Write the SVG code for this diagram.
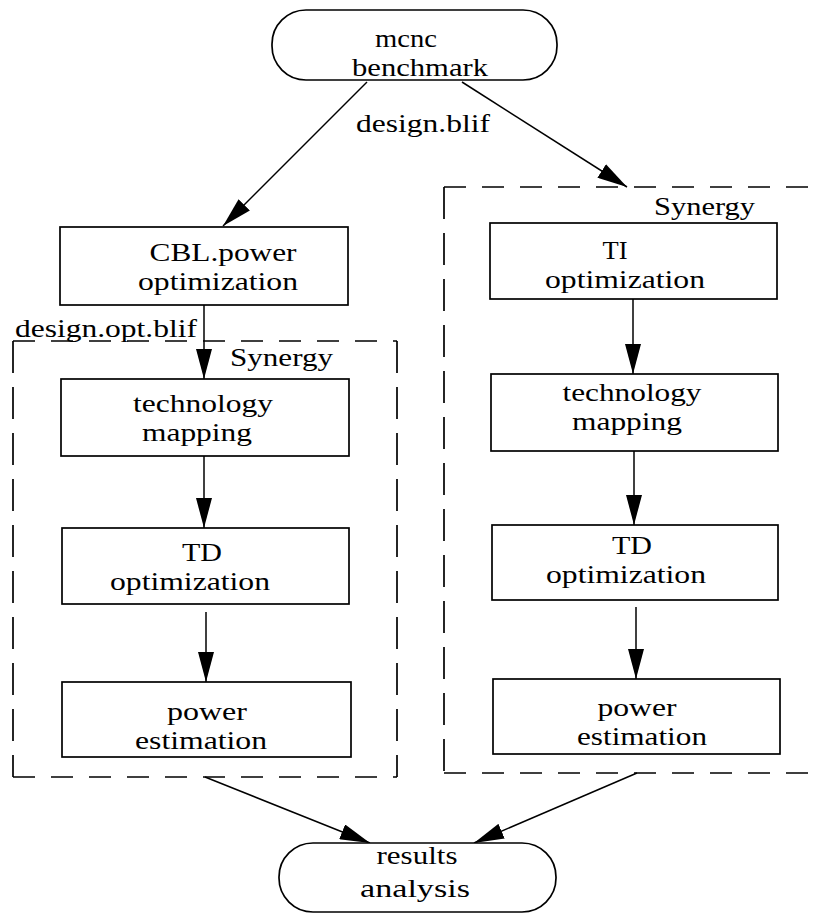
<svg xmlns="http://www.w3.org/2000/svg" width="814" height="915" viewBox="0 0 814 915">
<defs>
<style>
.box{fill:#fff;stroke:#000;stroke-width:1.7}
.t{font-family:"Liberation Serif","Times New Roman",serif;font-size:26px;fill:#000}
.m{text-anchor:middle}
.c{stroke:#000;stroke-width:1.5;fill:none;marker-end:url(#ah)}
.dh{stroke:#000;stroke-width:1.7;fill:none;stroke-dasharray:22 16}
.dv{stroke:#000;stroke-width:1.7;fill:none;stroke-dasharray:32 14}
</style>
<marker id="ah" viewBox="0 0 30 16" markerWidth="30" markerHeight="16" refX="30" refY="8" orient="auto" markerUnits="userSpaceOnUse">
<path d="M0,0 L30,8 L0,16 z" fill="#000"/>
</marker>
</defs>
<rect width="814" height="915" fill="#fff"/>

<g id="synergy-left">
<line class="dh" x1="13" y1="341" x2="397" y2="341"/>
<line class="dh" x1="13" y1="777" x2="397" y2="777"/>
<line class="dv" x1="13" y1="341" x2="13" y2="777"/>
<line class="dv" x1="397" y1="341" x2="397" y2="777"/>
<text class="t" x="230" y="366" textLength="103" lengthAdjust="spacingAndGlyphs">Synergy</text>
</g>

<g id="synergy-right">
<line class="dh" x1="444" y1="187" x2="820" y2="187"/>
<line class="dh" x1="444" y1="773" x2="820" y2="773"/>
<line class="dv" x1="444" y1="187" x2="444" y2="773"/>
<text class="t" x="654" y="215" textLength="101" lengthAdjust="spacingAndGlyphs">Synergy</text>
</g>

<g id="connectors">
<line class="c" x1="367" y1="82" x2="223" y2="226"/>
<line class="c" x1="462" y1="82" x2="627" y2="187"/>
<line class="c" x1="204" y1="305" x2="204" y2="379"/>
<line class="c" x1="204" y1="456" x2="204" y2="528"/>
<line class="c" x1="206" y1="612" x2="206" y2="682"/>
<line class="c" x1="633" y1="299" x2="633" y2="374"/>
<line class="c" x1="634" y1="451" x2="634" y2="525"/>
<line class="c" x1="636" y1="607" x2="636" y2="679"/>
<line class="c" x1="205" y1="777" x2="370" y2="843"/>
<line class="c" x1="637" y1="773" x2="474" y2="843"/>
</g>

<g id="mcnc">
<rect class="box" x="272" y="10" width="285" height="70" rx="34" ry="34"/>
<text class="t m" x="406" y="47" textLength="62" lengthAdjust="spacingAndGlyphs">mcnc</text>
<text class="t m" x="420" y="76" textLength="136" lengthAdjust="spacingAndGlyphs">benchmark</text>
</g>

<text id="label-design-blif" class="t" x="356" y="132" textLength="134" lengthAdjust="spacingAndGlyphs">design.blif</text>

<g id="cbl">
<rect class="box" x="60" y="227" width="288" height="78"/>
<text class="t m" x="223" y="261" textLength="147" lengthAdjust="spacingAndGlyphs">CBL.power</text>
<text class="t m" x="218" y="290" textLength="160" lengthAdjust="spacingAndGlyphs">optimization</text>
</g>

<text id="label-design-opt-blif" class="t" x="15" y="337" textLength="182" lengthAdjust="spacingAndGlyphs">design.opt.blif</text>

<g id="tech-left">
<rect class="box" x="61" y="379" width="288" height="77"/>
<text class="t m" x="203" y="412" textLength="140" lengthAdjust="spacingAndGlyphs">technology</text>
<text class="t m" x="197" y="441" textLength="110" lengthAdjust="spacingAndGlyphs">mapping</text>
</g>

<g id="td-left">
<rect class="box" x="62" y="528" width="287" height="76"/>
<text class="t m" x="202" y="561" textLength="40" lengthAdjust="spacingAndGlyphs">TD</text>
<text class="t m" x="190" y="590" textLength="160" lengthAdjust="spacingAndGlyphs">optimization</text>
</g>

<g id="power-left">
<rect class="box" x="62" y="682" width="289" height="75"/>
<text class="t m" x="207" y="720" textLength="80" lengthAdjust="spacingAndGlyphs">power</text>
<text class="t m" x="201" y="749" textLength="132" lengthAdjust="spacingAndGlyphs">estimation</text>
</g>

<g id="ti-right">
<rect class="box" x="490" y="223" width="287" height="76"/>
<text class="t m" x="615" y="259" textLength="25" lengthAdjust="spacingAndGlyphs">TI</text>
<text class="t m" x="625" y="288" textLength="160" lengthAdjust="spacingAndGlyphs">optimization</text>
</g>

<g id="tech-right">
<rect class="box" x="491" y="374" width="287" height="77"/>
<text class="t m" x="632" y="401" textLength="139" lengthAdjust="spacingAndGlyphs">technology</text>
<text class="t m" x="627" y="430" textLength="110" lengthAdjust="spacingAndGlyphs">mapping</text>
</g>

<g id="td-right">
<rect class="box" x="492" y="525" width="286" height="75"/>
<text class="t m" x="632" y="554" textLength="40" lengthAdjust="spacingAndGlyphs">TD</text>
<text class="t m" x="626" y="583" textLength="160" lengthAdjust="spacingAndGlyphs">optimization</text>
</g>

<g id="power-right">
<rect class="box" x="493" y="679" width="287" height="75"/>
<text class="t m" x="637" y="716" textLength="79" lengthAdjust="spacingAndGlyphs">power</text>
<text class="t m" x="642" y="745" textLength="130" lengthAdjust="spacingAndGlyphs">estimation</text>
</g>

<g id="results">
<rect class="box" x="279" y="843" width="277" height="69" rx="34" ry="34"/>
<text class="t m" x="417" y="864" textLength="81" lengthAdjust="spacingAndGlyphs">results</text>
<text class="t m" x="415" y="897" textLength="110" lengthAdjust="spacingAndGlyphs">analysis</text>
</g>
</svg>
